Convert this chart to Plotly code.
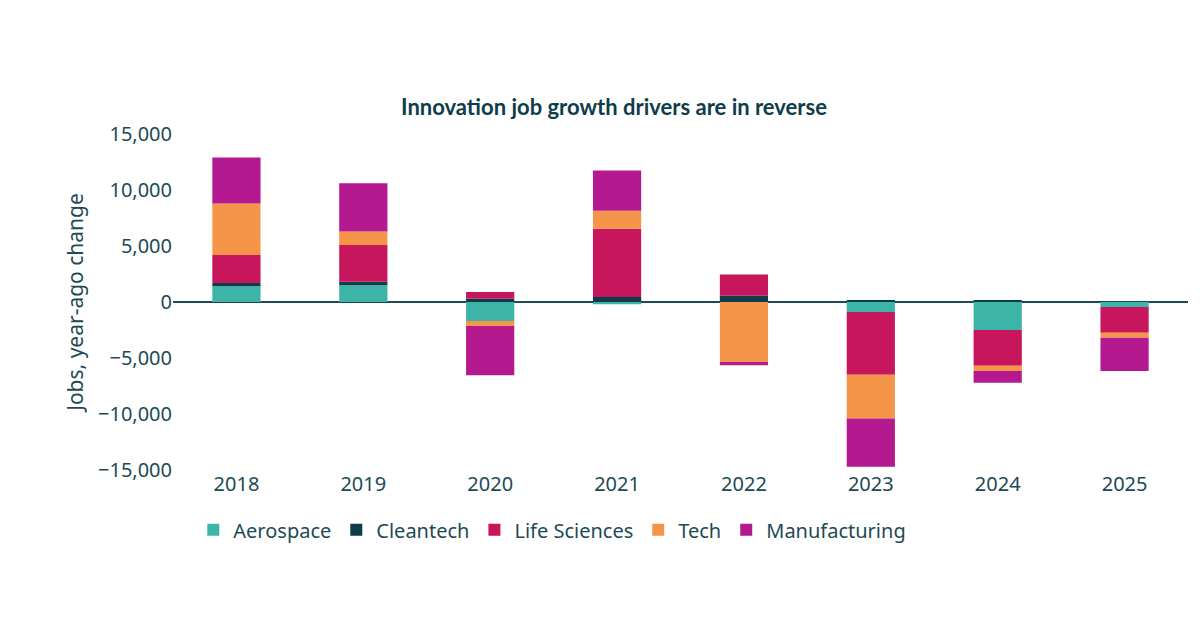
import plotly.graph_objects as go

years = ["2018", "2019", "2020", "2021", "2022", "2023", "2024", "2025"]
aerospace = [1400, 1500, -1700, -200, 0, -900, -2500, -450]
cleantech = [300, 300, 300, 450, 550, 150, 150, 0]
life_sciences = [2500, 3300, 600, 6100, 1900, -5600, -3200, -2300]
tech = [4600, 1200, -450, 1600, -5350, -3900, -450, -450]
manufacturing = [4100, 4300, -4400, 3600, -300, -4300, -1050, -2950]

series = [
    ("Aerospace", aerospace, "#3cb5a8"),
    ("Cleantech", cleantech, "#0d3d4a"),
    ("Life Sciences", life_sciences, "#c8165d"),
    ("Tech", tech, "#f5954a"),
    ("Manufacturing", manufacturing, "#b5198f"),
]

fig = go.Figure()
for name, vals, color in series:
    fig.add_trace(go.Bar(x=years, y=vals, name=name, marker_color=color,
                         marker_line_width=0, width=0.38))

txt = "#1d4a55"
fig.update_layout(
    width=1200, height=630, barmode="relative",
    paper_bgcolor="white", plot_bgcolor="white",
    font=dict(family="Noto Sans, sans-serif", size=20, color=txt),
    title=dict(text="<b>Innovation job growth drivers are in reverse</b>", x=0.505, xanchor="center",
               y=0.855, font=dict(family="Lato, sans-serif", size=22, color="#0d3d4a")),
    margin=dict(l=165, r=20, t=126, b=168),
    xaxis=dict(showgrid=False, showline=False, ticks="", tickfont=dict(size=20)),
    yaxis=dict(range=[-15000, 15000], tickvals=[-15000, -10000, -5000, 0, 5000, 10000, 15000],
               tickformat=",", showgrid=False, zeroline=True, zerolinecolor="#1d4a55",
               zerolinewidth=1.5, title=dict(text="Jobs, year-ago change", font=dict(size=21), standoff=8),
               tickfont=dict(size=20)),
    legend=dict(orientation="h", x=0.02, xanchor="left", y=-0.12, yanchor="top",
                font=dict(size=20), traceorder="normal"),
)
fig.write_html("out.html")
